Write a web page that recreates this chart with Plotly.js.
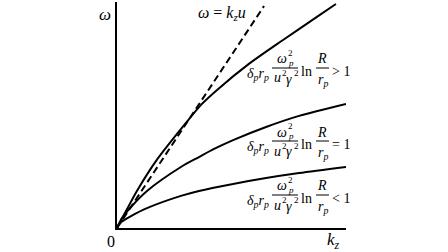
<!DOCTYPE html>
<html>
<head>
<meta charset="utf-8">
<script src="https://cdn.plot.ly/plotly-3.0.1.min.js"></script>
<style>html,body{margin:0;padding:0;background:#fff;}#chart{width:448px;height:252px;}</style>
</head>
<body>
<div id="chart"></div>
<script>
// Data (arbitrary units)
const kTop = [0, 0.44, 0.87, 1.70, 3.01, 3.71, 4.37, 5.76, 7.25, 8.73, 9.56];
const wTop = [0, 0.84, 1.64, 2.96, 4.65, 5.49, 6.11, 7.26, 8.32, 9.34, 9.91];
const kMid = [0, 0.22, 0.61, 1.31, 2.79, 3.58, 4.24, 5.07, 6.51, 7.95, 10.0];
const wMid = [0, 0.44, 0.93, 1.64, 2.70, 3.14, 3.50, 3.89, 4.47, 4.96, 5.49];
const kLow = [0, 0.13, 0.31, 0.61, 1.31, 2.79, 3.58, 5.07, 6.51, 7.95, 10.0];
const wLow = [0, 0.22, 0.35, 0.53, 0.88, 1.42, 1.64, 1.95, 2.21, 2.43, 2.70];
const kLin = [0, 6.42];
const wLin = [0, 9.82];
const conditions = ['&gt; 1', '= 1', '&lt; 1'];

const W = 448, H = 252;
const L = 117, R = 346, T = 2, B = 228;
const px = x => (x - L) / (R - L);
const py = y => (B - y) / (B - T);
const FONT = '"Liberation Serif", "Times New Roman", serif';

const lineStyle = {color: '#000', width: 2};
const traces = [
  {x: kTop, y: wTop, mode: 'lines', line: Object.assign({shape: 'spline', smoothing: 0.8}, lineStyle)},
  {x: kMid, y: wMid, mode: 'lines', line: Object.assign({shape: 'spline', smoothing: 0.8}, lineStyle)},
  {x: kLow, y: wLow, mode: 'lines', line: Object.assign({shape: 'spline', smoothing: 0.8}, lineStyle)},
  {x: kLin, y: wLin, mode: 'lines', line: {color: '#000', width: 2, dash: '7px,4px'}}
];

const annotations = [];
const shapes = [];
function ann(text, x, y, xanchor, size) {
  annotations.push({
    text: text, xref: 'paper', yref: 'paper', x: px(x), y: py(y),
    xanchor: xanchor || 'center', yanchor: 'middle', showarrow: false,
    borderpad: 0, font: {family: FONT, size: size || 14, color: '#000'}
  });
}
function bar(x0, x1, y) {
  shapes.push({type: 'line', xref: 'paper', yref: 'paper', x0: px(x0), x1: px(x1), y0: py(y), y1: py(y),
    line: {color: '#000', width: 1}});
}
// condition labels, placed by the centre line yc
const labelY = [72, 145, 199];
labelY.forEach((yc, i) => {
  ann('<i>δ</i><sub><i>p</i></sub><i>r</i><sub><i>p</i></sub>', 246, yc + 2, 'left');
  ann('<i>ω</i>', 282, yc - 13, 'center');
  ann('2', 286.5, yc - 19, 'left', 9);
  ann('<i>p</i>', 286.5, yc - 9, 'left', 9);
  bar(272, 298, yc - 4);
  ann('<i>u</i>', 277, yc + 6, 'center');
  ann('2', 280.5, yc + 1, 'left', 9);
  ann('<i>γ</i>', 289, yc + 7, 'center');
  ann('2', 293, yc + 1, 'left', 9);
  ann('ln', 299.5, yc - 1, 'left');
  ann('<i>R</i>', 322, yc - 13, 'center');
  bar(316, 329, yc - 4);
  ann('<i>r</i><sub><i>p</i></sub>', 323, yc + 8, 'center');
  ann(conditions[i], 331, yc - 1, 'left');
});
ann('<i>ω</i> = <i>k</i><sub><i>z</i></sub><i>u</i>', 222, 14, 'center', 16);
ann('<i>ω</i>', 105, 15, 'center', 17);
ann('0', 111, 241, 'center', 16);
ann('<i>k</i><sub><i>z</i></sub>', 333, 241, 'center', 17);

const layout = {
  width: W, height: H,
  font: {family: FONT, color: '#000'},
  margin: {l: L, r: W - R, t: T, b: H - B, pad: 0},
  paper_bgcolor: '#fff', plot_bgcolor: '#fff',
  showlegend: false,
  xaxis: {range: [0, 10], showline: true, linecolor: '#000', linewidth: 2, showgrid: false,
          zeroline: false, showticklabels: false, ticks: '', fixedrange: true},
  yaxis: {range: [0, 10], showline: true, linecolor: '#000', linewidth: 2, showgrid: false,
          zeroline: false, showticklabels: false, ticks: '', fixedrange: true},
  annotations: annotations,
  shapes: shapes
};
Plotly.newPlot('chart', traces, layout, {staticPlot: true, displayModeBar: false});
</script>
</body>
</html>
